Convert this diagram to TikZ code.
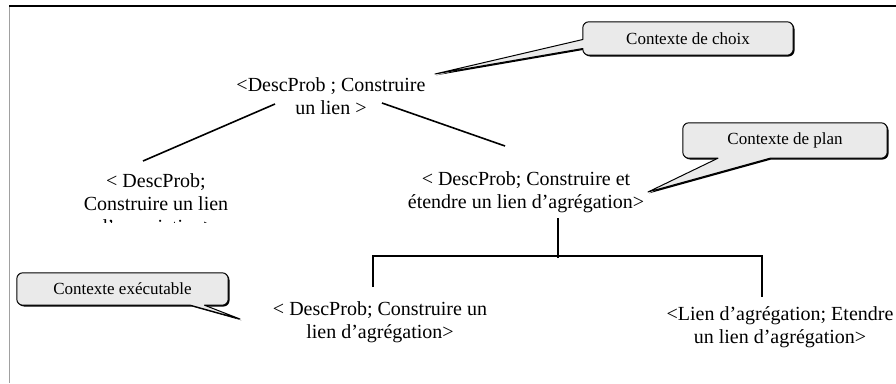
\documentclass[tikz,border=0pt]{standalone}
\usepackage{fontspec}
\setmainfont{Liberation Serif}
\usetikzlibrary{shadows}
\definecolor{callfill}{RGB}{234,234,234}
\definecolor{framegray}{RGB}{160,160,160}
\tikzset{
  txt/.style={inner sep=0pt, align=center, font=\fontsize{20}{23}\selectfont},
  ctxt/.style={inner sep=0pt, align=center, font=\fontsize{17}{20}\selectfont},
  branch/.style={draw=black, line width=1.6pt},
  callout/.style={draw=black, line width=1pt, fill=callfill, line join=round,
    drop shadow={shadow xshift=1.3pt, shadow yshift=-1.3pt, fill=black, opacity=1}},
}
\begin{document}
\begin{tikzpicture}[x=1pt,y=-1pt]
\useasboundingbox (0,0) rectangle (896,383);
% frame
\draw[framegray, line width=0.8pt] (9,6) -- (9,383);
\draw[black, line width=1.5pt] (9,6) -- (896,6);
% tree nodes
\node[txt] (root) at (331,96) {<DescProb ; Construire\\un lien >};
\begin{scope}
  \clip (0,0) rectangle (896,222);
  \node[txt] (left) at (156,204) {< DescProb;\\Construire un lien\\d’association>};
\end{scope}
\node[txt] (right) at (526,192) {< DescProb; Construire et\\étendre un lien d’agrégation>};
\node[txt] (bm) at (380,322) {< DescProb; Construire un\\lien d’agrégation>};
\node[txt] (br) at (780,327) {<Lien d’agrégation; Etendre\\un lien d’agrégation>};
% connectors
\draw[branch] ([shift={(-56,8)}]root.center) -- ([shift={(-13,-43)}]left.center);
\draw[branch] ([shift={(51,7)}]root.center) -- ([shift={(-21,-46)}]right.center);
\draw[branch] ([shift={(32,26)}]right.center) -- ([shift={(32,66)}]right.center);
\draw[branch] ([shift={(-7,-35)}]bm.center) -- ([shift={(-7,-66)}]bm.center)
   -- ([shift={(-18,-71)}]br.center) -- ([shift={(-18,-30)}]br.center);
% callouts
\node[ctxt, minimum width=210, minimum height=33] (choix) at (688,38.5) {Contexte de choix};
\coordinate (tipA) at ([shift={(104,-22)}]root.center);
\path[callout] (tipA) -- ([shift={(0,1)}]choix.west) [rounded corners=6pt] -- (choix.north west)
   -- (choix.north east) -- (choix.south east) -- (choix.south west) [sharp corners]
   -- ([shift={(0,10)}]choix.west) -- cycle;
\node[ctxt] at (choix) {Contexte de choix};
\node[ctxt, minimum width=204, minimum height=35] (plan) at (785,140.5) {Contexte de plan};
\coordinate (tipB) at ([shift={(122,0)}]right.center);
\path[callout] (tipB) -- ([shift={(-67,0)}]plan.south) [rounded corners=6pt] -- (plan.south west)
   -- (plan.north west) -- (plan.north east) -- (plan.south east) [sharp corners]
   -- ([shift={(-15,0)}]plan.south) -- cycle;
\node[ctxt] at (plan) {Contexte de plan};
\node[ctxt, minimum width=211, minimum height=32] (exec) at (122.5,289) {Contexte exécutable};
\coordinate (tipC) at ([shift={(-140,-3)}]bm.center);
\path[callout] (tipC) -- ([shift={(82,0)}]exec.south) [rounded corners=6pt] -- (exec.south east)
   -- (exec.north east) -- (exec.north west) -- (exec.south west) [sharp corners]
   -- ([shift={(68,0)}]exec.south) -- cycle;
\node[ctxt] at (exec) {Contexte exécutable};
\end{tikzpicture}
\end{document}
